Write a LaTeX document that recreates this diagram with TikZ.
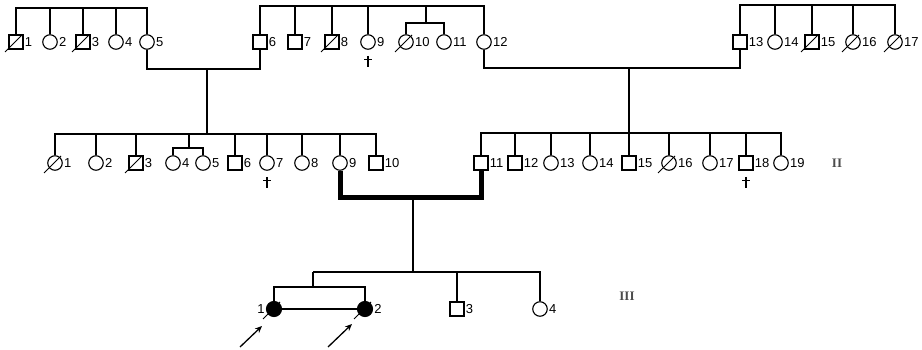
\documentclass[tikz,border=0pt]{standalone}
\usepackage{fontspec}
\setmainfont{Liberation Sans}
\newfontfamily\romanfont{Liberation Serif}
\usetikzlibrary{arrows.meta}
% one individual: name, symbol style, x, y, number printed at its right
\newcommand\indiv[5]{%
  \node[#2] (#1) at (#3,#4) {};
  \node[num,anchor=west] (#1-n) at ([xshift=1.2pt]#1.east) {#5};}
% diagonal stroke through a deceased individual
\newcommand\deceased[1]{%
  \draw[slash] ([shift={(-11,10)}]#1.center) -- ([shift={(6,-7)}]#1.center);}
% small cross drawn below an individual
\newcommand\crossmark[1]{%
  \draw[crossline] ([shift={(0,14)}]#1.center) -- ([shift={(0,25)}]#1.center)
                   ([shift={(-4,17.5)}]#1.center) -- ([shift={(4,17.5)}]#1.center);}
\begin{document}
\begin{tikzpicture}[x=1pt,y=-1pt,
  male/.style={draw,rectangle,minimum size=14pt,inner sep=0pt,line width=1.05pt,fill=white},
  female/.style={draw,circle,minimum size=14.5pt,inner sep=0pt,line width=1.15pt,fill=white},
  affected/.style={female,fill=black,minimum size=15pt},
  kin/.style={line width=2.8pt},
  mate/.style={line width=5pt},
  twin/.style={line width=1.5pt},
  slash/.style={line width=1pt},
  crossline/.style={line width=1.8pt},
  num/.style={font=\fontsize{13}{13}\selectfont,inner sep=0pt},
  gen/.style={font=\romanfont\fontsize{13}{13}\selectfont\bfseries,inner sep=0pt,text=black!70},
  pointer/.style={line width=1.3pt,-{Stealth[length=7pt,width=6pt]}}
]
\useasboundingbox (0,0) rectangle (922,350);

% ---------------- generation I ----------------
\indiv{I1}{male}{16}{42}{1}
\indiv{I2}{female}{50}{42}{2}
\indiv{I3}{male}{83}{42}{3}
\indiv{I4}{female}{116}{42}{4}
\indiv{I5}{female}{147}{42}{5}
\indiv{I6}{male}{260}{42}{6}
\indiv{I7}{male}{295}{42}{7}
\indiv{I8}{male}{332}{42}{8}
\indiv{I9}{female}{368}{42}{9}
\indiv{I10}{female}{406}{42}{10}
\indiv{I11}{female}{444}{42}{11}
\indiv{I12}{female}{484}{42}{12}
\indiv{I13}{male}{740}{42}{13}
\indiv{I14}{female}{775}{42}{14}
\indiv{I15}{male}{812}{42}{15}
\indiv{I16}{female}{853}{42}{16}
\indiv{I17}{female}{895}{42}{17}
\deceased{I1}\deceased{I3}\deceased{I8}\deceased{I10}
\deceased{I15}\deceased{I16}\deceased{I17}
\crossmark{I9}

\coordinate (sA) at (0,8);
\coordinate (sB) at (0,6);
\coordinate (sC) at (0,5);
\draw[kin] (I1.north) -- (I1 |- sA) -- (I5 |- sA) -- (I5.north);
\foreach \p in {I2,I3,I4} \draw[kin] (\p.north) -- (\p |- sA);
\draw[kin] (I6.north) -- (I6 |- sB) -- (I12 |- sB) -- (I12.north);
\foreach \p in {I7,I8,I9} \draw[kin] (\p.north) -- (\p |- sB);
\coordinate (tw1011) at (426,23);
\draw[twin] (tw1011 |- sB) -- (tw1011);
\draw[twin] (I10.north) -- (I10 |- tw1011) -- (I11 |- tw1011) -- (I11.north);
\draw[kin] (I13.north) -- (I13 |- sC) -- (I17 |- sC) -- (I17.north);
\foreach \p in {I14,I15,I16} \draw[kin] (\p.north) -- (\p |- sC);

% matings of generation I
\coordinate (mA) at (207,69);
\coordinate (mC) at (629,68);
\draw[kin] (I5.south) -- (I5 |- mA) -- (I6 |- mA) -- (I6.south);
\draw[kin] (I12.south) -- (I12 |- mC) -- (I13 |- mC) -- (I13.south);

% ---------------- generation II ----------------
\indiv{II1}{female}{55}{163}{1}
\indiv{II2}{female}{96}{163}{2}
\indiv{II3}{male}{136}{163}{3}
\indiv{II4}{female}{173}{163}{4}
\indiv{II5}{female}{203}{163}{5}
\indiv{II6}{male}{235}{163}{6}
\indiv{II7}{female}{267}{163}{7}
\indiv{II8}{female}{302}{163}{8}
\indiv{II9}{female}{340}{163}{9}
\indiv{II10}{male}{376}{163}{10}
\indiv{II11}{male}{481}{163}{11}
\indiv{II12}{male}{515}{163}{12}
\indiv{II13}{female}{551}{163}{13}
\indiv{II14}{female}{590}{163}{14}
\indiv{II15}{male}{629}{163}{15}
\indiv{II16}{female}{669}{163}{16}
\indiv{II17}{female}{710}{163}{17}
\indiv{II18}{male}{746}{163}{18}
\indiv{II19}{female}{781}{163}{19}
\deceased{II1}\deceased{II3}\deceased{II16}
\crossmark{II7}
\crossmark{II18}
\node[gen] (gII) at (837,163) {II};

\coordinate (sII) at (0,134);
\coordinate (sIIr) at (0,133);
\draw[kin] (mA) -- (mA |- sII);
\draw[kin] (II1.north) -- (II1 |- sII) -- (II10 |- sII) -- (II10.north);
\foreach \p in {II2,II3,II6,II7,II8,II9} \draw[kin] (\p.north) -- (\p |- sII);
\coordinate (tw45) at (189,148);
\draw[kin] (tw45 |- sII) -- (tw45);
\draw[twin] (II4.north) -- (II4 |- tw45) -- (II5 |- tw45) -- (II5.north);
\draw[kin] (mC) -- (mC |- sIIr);
\draw[kin] (II11.north) -- (II11 |- sIIr) -- (II19 |- sIIr) -- (II19.north);
\foreach \p in {II12,II13,II14,II15,II16,II17,II18} \draw[kin] (\p.north) -- (\p |- sIIr);

% mating of II-9 and II-11
\coordinate (mB) at (413,198);
\draw[mate] (II9.south) -- (II9 |- mB) -- (II11 |- mB) -- (II11.south);

% ---------------- generation III ----------------
\node[affected] (III1) at (274,309) {};
\node[num,anchor=east] (III1-n) at ([xshift=-1.2pt]III1.west) {1};
\node[affected] (III2) at (365,309) {};
\node[num,anchor=west] (III2-n) at ([xshift=1.2pt]III2.east) {2};
\indiv{III3}{male}{457}{309}{3}
\indiv{III4}{female}{540}{309}{4}
\deceased{III1}\deceased{III2}
\node[gen] (gIII) at (627,296) {III};

\coordinate (sIII) at (0,272);
\coordinate (tw12) at (313,287);
\draw[kin] (mB) -- (mB |- sIII);
\draw[kin] (tw12 |- sIII) -- (III4 |- sIII) -- (III4.north);
\draw[kin] (III3.north) -- (III3 |- sIII);
\draw[twin] (tw12 |- sIII) -- (tw12);
\draw[twin] (III1.north) -- (III1 |- tw12) -- (III2 |- tw12) -- (III2.north);
\draw[twin] (III1.east) -- (III2.west);

% probands
\coordinate (p1) at (240,347);
\coordinate (p2) at (328,347);
\draw[pointer] (p1) -- ([shift={(-12,17)}]III1.center);
\draw[pointer] (p2) -- ([shift={(-13,15)}]III2.center);
\end{tikzpicture}
\end{document}
